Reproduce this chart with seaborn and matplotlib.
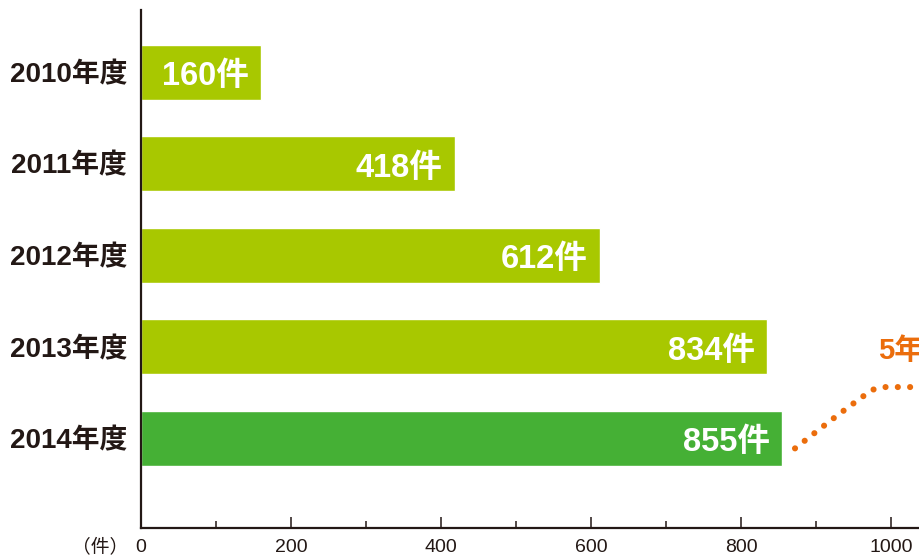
import matplotlib
matplotlib.use("Agg")
import matplotlib.pyplot as plt
import seaborn as sns
import pandas as pd
from matplotlib.ticker import MultipleLocator

years = ["2010年度", "2011年度", "2012年度", "2013年度", "2014年度"]
counts = [160, 418, 612, 834, 855]
value_labels = ["160件", "418件", "612件", "834件", "855件"]
bar_colors = ["#A8C800", "#A8C800", "#A8C800", "#A8C800", "#45B035"]
x_ticks = [0, 200, 400, 600, 800, 1000]

sns.set_style("white")
FAM = ["Liberation Sans", "Noto Sans CJK JP", "DejaVu Sans"]
plt.rcParams["font.family"] = FAM

df = pd.DataFrame({"year": years, "count": counts})

W, H = 919, 557
fig = plt.figure(figsize=(W / 100, H / 100), dpi=100)
ax_left, ax_right, ax_top, ax_bot = 141, 919, 10, 528
ax = fig.add_axes([ax_left / W, (H - ax_bot) / H, (ax_right - ax_left) / W, (ax_bot - ax_top) / H])

sns.barplot(data=df, x="count", y="year", hue="year", palette=bar_colors,
            orient="h", width=0.6, ax=ax, legend=False, saturation=1)

px_per_unit = 0.75
ax.set_xlim(0, (ax_right - ax_left) / px_per_unit)
ax.set_ylim(4.98, -0.68)

ax.set_xticks(x_ticks)
ax.set_xticklabels([str(t) for t in x_ticks])
ax.xaxis.set_minor_locator(MultipleLocator(100))
ax.tick_params(axis="x", which="major", direction="in", length=8, width=1.1,
               color="#231815", bottom=True, pad=8, labelsize=14, labelcolor="#231815")
ax.tick_params(axis="x", which="minor", direction="in", length=5, width=1.1,
               color="#231815", bottom=True)
ax.tick_params(axis="y", length=0, pad=10)
for lbl in ax.get_yticklabels():
    lbl.set_fontweight("bold")
    lbl.set_fontsize(20)
    lbl.set_color("#231815")
ax.set_xlabel("")
ax.set_ylabel("")

for s in ["top", "right"]:
    ax.spines[s].set_visible(False)
for s in ["left", "bottom"]:
    ax.spines[s].set_color("#231815")
    ax.spines[s].set_linewidth(1.6)

for i, (c, lab) in enumerate(zip(counts, value_labels)):
    ax.text(c - 16, i + 0.05, lab, ha="right", va="center", color="white",
            fontsize=23.5, fontweight="bold")

fig.text(128 / W, 1 - 547 / H, "（件）", ha="right", va="center", fontsize=13.5,
         color="#231815", family=["Noto Sans CJK JP", "DejaVu Sans"])

# orange dotted trend annotation
xs = [872, 900, 930, 958, 975, 990, 1040]
ys = [4.11, 3.93, 3.74, 3.57, 3.47, 3.44, 3.44]
ax.plot(xs, ys, color="#EB6D0C", linewidth=4.4, linestyle=(0, (0.01, 2.0)),
        dash_capstyle="round", clip_on=False)
ax.text(983, 3.05, "5年間で約5倍", color="#EB6D0C", fontsize=21, fontweight="bold",
        ha="left", va="center", clip_on=False)

fig.savefig("out.png", dpi=100)
